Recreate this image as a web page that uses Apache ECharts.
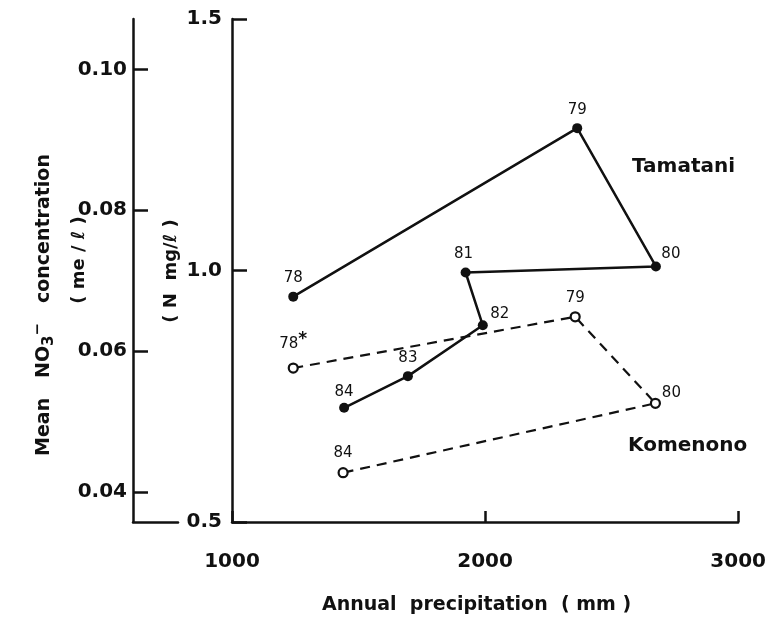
<!DOCTYPE html>
<html>
<head>
<meta charset="utf-8">
<script src="https://cdn.jsdelivr.net/npm/echarts@6/dist/echarts.min.js"></script>
<style>html,body{margin:0;padding:0;background:#fff}#chart{width:769px;height:622px}</style>
</head>
<body>
<div id="chart"></div>
<script>
// values
var tamataniYears = ['78', '79', '80', '81', '82', '83', '84'];
var tamataniPrecip = [1242, 2364, 2675, 1923, 1991, 1695, 1443];
var tamataniN = [0.948, 1.283, 1.008, 0.996, 0.891, 0.790, 0.727];
var komenonoYears = ['78', '79', '80', '84'];
var komenonoPrecip = [1242, 2356, 2673, 1439];
var komenonoN = [0.806, 0.908, 0.736, 0.598];
var meTicks = [0.04, 0.06, 0.08, 0.10];

// where the year label sits (most are just above)
var tamataniLabelOffset = [[0, 0], [0, 0], [15, 6], [-2, 0], [17, 7], [0, 0], [0, 3]];
var komenonoLabelOffset = [[0, 0], [0, 0], [16, 9], [0, 0]];

var FONT = 'DejaVu Sans';

function buildData(xs, ys, years, offs, star) {
  var out = [];
  for (var i = 0; i < xs.length; i++) {
    var txt = years[i];
    if (star && i === 0) txt = '{a|' + years[i] + '}{s|*}';
    out.push({
      value: [xs[i], ys[i]],
      label: {
        show: true,
        position: 'top',
        distance: 6,
        offset: offs[i],
        formatter: txt
      }
    });
  }
  return out;
}

var axisLine = { lineStyle: { color: '#111', width: 2.5 } };
var tickStyle = { inside: true, length: 15, lineStyle: { color: '#111', width: 2.5 } };
var labelStyle = { color: '#111', fontFamily: FONT, fontWeight: 'bold', fontSize: 20 };

var myChart = echarts.init(document.getElementById('chart'));

var option = {
  backgroundColor: '#fff',
  animation: false,
  grid: [
    { left: 232, right: 30, top: 19, bottom: 100 },
    { left: 133, width: 45, top: 19, bottom: 100 }
  ],
  xAxis: [{
    gridIndex: 0,
    type: 'value',
    min: 1000,
    max: 3000,
    interval: 1000,
    axisLine: axisLine,
    axisTick: { inside: true, length: 11, lineStyle: { color: '#111', width: 2.5 } },
    axisLabel: Object.assign({ margin: 30, formatter: function (v) { return String(v); } }, labelStyle),
    splitLine: { show: false }
  }, {
    gridIndex: 1,
    type: 'value',
    min: 0,
    max: 1,
    axisLine: axisLine,
    axisTick: { show: false },
    axisLabel: { show: false },
    splitLine: { show: false }
  }],
  yAxis: [{
    gridIndex: 0,
    type: 'value',
    min: 0.5,
    max: 1.5,
    interval: 0.5,
    axisLine: axisLine,
    axisTick: tickStyle,
    axisLabel: Object.assign({ margin: 10, formatter: function (v) { return v.toFixed(1); } }, labelStyle),
    splitLine: { show: false }
  }, {
    gridIndex: 1,
    type: 'value',
    min: 0.5 / 14,
    max: 1.5 / 14,
    axisLine: axisLine,
    axisTick: Object.assign({ customValues: meTicks }, tickStyle),
    axisLabel: Object.assign({ margin: 6, customValues: meTicks, formatter: function (v) { return v.toFixed(2); } }, labelStyle),
    splitLine: { show: false }
  }],
  series: [{
    name: 'Tamatani',
    type: 'line',
    xAxisIndex: 0,
    yAxisIndex: 0,
    symbol: 'circle',
    symbolSize: 10,
    itemStyle: { color: '#111' },
    lineStyle: { color: '#111', width: 2.5 },
    label: { color: '#111', fontFamily: FONT, fontSize: 15 },
    data: buildData(tamataniPrecip, tamataniN, tamataniYears, tamataniLabelOffset, false)
  }, {
    name: 'Komenono',
    type: 'line',
    xAxisIndex: 0,
    yAxisIndex: 0,
    symbol: 'circle',
    symbolSize: 9,
    itemStyle: { color: '#fff', borderColor: '#111', borderWidth: 2.2 },
    lineStyle: { color: '#111', width: 2.2, type: [10, 7] },
    label: {
      color: '#111', fontFamily: FONT, fontSize: 15,
      rich: {
        a: { color: '#111', fontFamily: FONT, fontSize: 15 },
        s: { color: '#111', fontFamily: FONT, fontSize: 17, fontWeight: 'bold', verticalAlign: 'top', padding: [0, 0, 8, 0] }
      }
    },
    data: buildData(komenonoPrecip, komenonoN, komenonoYears, komenonoLabelOffset, true)
  }],
  graphic: [{
    type: 'text',
    left: 322,
    top: 596,
    style: { text: 'Annual  precipitation  ( mm )', fill: '#111', font: 'bold 19px "DejaVu Sans"' }
  }, {
    type: 'text',
    x: 44,
    y: 305,
    rotation: Math.PI / 2,
    style: {
      text: '{t|Mean   NO}{sub|3}{sup|−}{t|   concentration}',
      align: 'center',
      verticalAlign: 'middle',
      fill: '#111',
      rich: {
        t: { fontFamily: FONT, fontWeight: 'bold', fontSize: 19, fill: '#111', lineHeight: 26 },
        sub: { fontFamily: FONT, fontWeight: 'bold', fontSize: 15, fill: '#111', verticalAlign: 'bottom', lineHeight: 26, padding: [6, 0, 0, 0] },
        sup: { fontFamily: FONT, fontWeight: 'bold', fontSize: 15, fill: '#111', verticalAlign: 'top', lineHeight: 26, padding: [0, 0, 10, 0] }
      }
    }
  }, {
    type: 'text',
    x: 79,
    y: 260,
    rotation: Math.PI / 2,
    style: { text: '( me / ℓ )', align: 'center', verticalAlign: 'middle', fill: '#111', font: 'bold 18px "DejaVu Sans"' }
  }, {
    type: 'text',
    x: 171,
    y: 271,
    rotation: Math.PI / 2,
    style: { text: '( N  mg/ℓ )', align: 'center', verticalAlign: 'middle', fill: '#111', font: 'bold 18px "DejaVu Sans"' }
  }, {
    type: 'text',
    left: 632,
    top: 157,
    style: { text: 'Tamatani', fill: '#111', font: 'bold 20px "DejaVu Sans"' }
  }, {
    type: 'text',
    left: 628,
    top: 436,
    style: { text: 'Komenono', fill: '#111', font: 'bold 20px "DejaVu Sans"' }
  }]
};

myChart.setOption(option);
</script>
</body>
</html>
